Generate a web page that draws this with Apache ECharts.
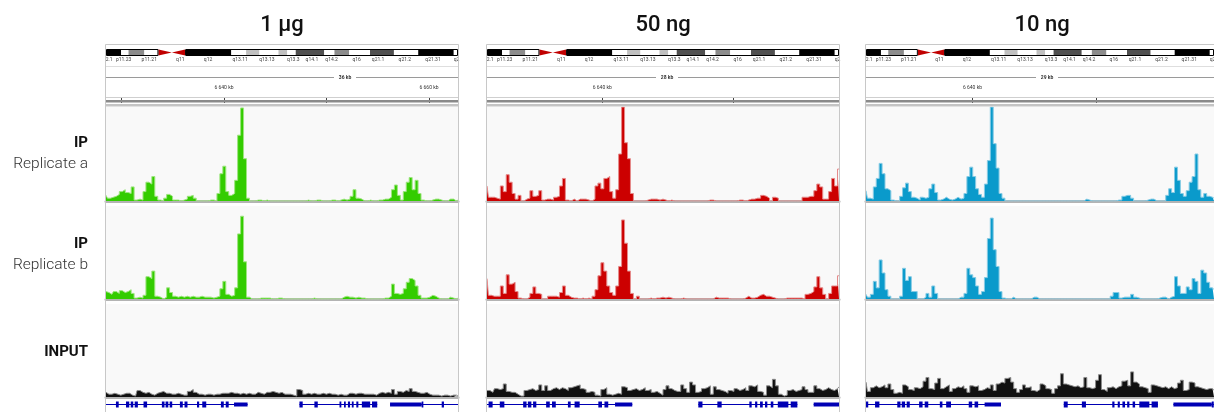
<!DOCTYPE html>
<html><head><meta charset="utf-8">
<script src="https://cdn.jsdelivr.net/npm/echarts@6/dist/echarts.min.js"></script>
<style>html,body{margin:0;padding:0;background:#fff}#c{width:1214px;height:412px}</style>
</head><body><div id="c"></div>
<script>
// ---------------- DATA ----------------
const conditions = ['1 µg', '50 ng', '10 ng'];
const spanLabels = ['36 kb', '28 kb', '29 kb'];
const trackLabels = [['IP', 'Replicate a'], ['IP', 'Replicate b'], ['INPUT', '']];
// genomic view windows (kb) of the three panels
const windowStartKb = [6628.49, 6631.17, 6631.42];
const windowEndKb = [6662.83, 6658.14, 6659.47];
const rulerTicksKb = [6630, 6640, 6650, 6660];
const rulerLabelKb = [[6640, 6660], [6640], [6640]];

// ideogram bands, per-mille of chromosome length
const ideoBands = [
  [0, 43, 'gpos100'], [43, 64, 'gneg'], [64, 109, 'gpos50'], [109, 149, 'gneg'],
  [149, 187, 'acen-p'], [187, 225, 'acen-q'], [225, 356, 'gpos100'], [356, 398, 'gneg'],
  [398, 436, 'gpos25'], [436, 490, 'gneg'], [490, 515, 'gpos25'], [515, 539, 'gneg'],
  [539, 620, 'gpos75'], [620, 649, 'gneg'], [649, 691, 'gpos50'], [691, 750, 'gneg'],
  [750, 818, 'gpos75'], [818, 887, 'gneg'], [887, 988, 'gpos100'], [988, 1000, 'gneg']
];
const ideoLabelNames = ['2.1', 'p11.23', 'p11.21', 'q11', 'q12', 'q13.11', 'q13.13', 'q13.3', 'q14.1', 'q14.2', 'q16', 'q21.1', 'q21.2', 'q21.31', 'q2'];
const ideoLabelPos = [9, 50, 123, 211, 290, 381, 457, 532, 585, 641, 712, 773, 849, 929, 996];

// gene models (kb)
const geneSpans = [[6620, 6642.30], [6647.36, 6654.95], [6656.20, 6670]];
const geneExons = [
  [6629.46, 6629.73], [6630.44, 6630.76], [6630.90, 6631.15], [6631.29, 6631.60], [6632.15, 6632.50],
  [6633.94, 6634.20], [6634.30, 6634.57], [6634.70, 6634.95], [6635.70, 6635.98], [6636.15, 6636.44],
  [6637.37, 6637.58], [6637.88, 6638.27], [6639.70, 6639.98], [6640.17, 6640.46],
  [6647.36, 6647.68], [6648.82, 6649.15], [6651.27, 6651.45], [6651.71, 6651.88], [6652.09, 6652.30],
  [6652.47, 6652.65], [6652.91, 6653.11], [6653.45, 6654.26], [6654.44, 6654.95],
  [6659.29, 6659.45], [6661.24, 6661.46]
];
const geneUtrs = [[6640.98, 6642.30], [6656.20, 6659.29]];

// coverage, 120 bins per panel window, % of track data range
const ipA_1ug = [6,3,4,5,7,10,12,9,8,15, 1,2,1,10,20,18,26,5,1,0, 3,7,5,1,1,0,1,2,5,6, 3,0,0,0,0,1,1,0,8,29,
  37,10,6,8,22,70,99,45,3,0, 0,1,1,0,1,0,0,0,0,0, 0,0,0,0,0,0,0,0,1,0, 0,1,1,0,0,0,1,1,0,1,
  2,1,2,5,12,3,2,0,0,1, 0,0,1,1,2,2,4,12,17,6, 1,10,20,25,12,22,8,1,0,0, 1,2,2,1,0,0,2,2,0,1];
const ipB_1ug = [8,7,5,8,6,9,7,8,10,6, 1,2,1,4,24,22,30,3,2,0, 2,12,7,3,2,3,2,3,2,3, 2,2,3,2,2,2,1,2,3,11,
  19,5,3,4,12,70,89,40,2,0, 0,0,1,1,1,1,0,0,1,1, 0,0,0,0,0,0,0,0,0,0, 1,0,0,0,0,0,0,0,0,0,
  2,3,2,2,1,2,1,1,0,0, 0,0,0,0,1,1,3,16,6,5, 6,11,18,22,20,14,4,1,1,2, 4,3,1,0,0,0,2,1,0,1];
const input_1ug = [5,3,3,4,3,2,3,4,4,2, 1,7,5,4,5,3,2,4,5,6, 4,4,3,3,4,3,2,2,6,8, 5,3,3,2,3,3,2,3,3,4,
  4,4,5,4,4,3,4,3,4,3, 3,5,4,3,5,5,6,5,4,5, 3,3,3,2,1,8,7,3,4,3, 4,3,3,4,3,4,3,3,2,3,
  2,2,4,4,3,4,4,3,3,3, 3,2,4,5,4,5,4,8,3,6, 5,7,6,9,6,5,4,4,5,3, 2,2,2,1,2,2,1,2,2,1];
const ipA_50ng = [16,4,4,3,2,16,10,28,20,8, 2,6,0,2,3,11,5,6,11,1, 2,2,1,4,5,16,24,1,0,2, 0,2,2,2,1,0,2,16,19,13,
  24,26,10,3,12,50,100,62,45,8, 0,0,0,0,1,2,2,2,1,2, 1,0,1,0,0,0,0,0,0,0, 0,0,0,0,0,1,1,0,0,0,
  0,0,0,0,0,1,1,0,1,2, 2,3,3,6,5,3,0,4,3,0, 0,0,0,0,0,0,0,4,4,5, 5,11,18,15,2,2,10,24,16,34];
const ipB_50ng = [22,4,3,3,3,14,6,26,16,18, 8,1,0,0,2,6,13,6,5,0, 0,3,3,3,2,7,14,4,2,1, 1,0,1,0,1,0,3,10,25,39,
  30,14,7,4,14,35,85,60,30,6, 0,3,0,0,0,1,0,1,1,2, 1,2,1,0,0,0,1,0,0,0, 0,0,0,0,0,0,0,2,1,1,
  1,1,0,0,0,0,0,1,3,1, 1,2,4,5,3,3,2,1,0,0, 0,1,1,1,1,1,1,0,5,6, 8,13,24,12,5,0,6,14,14,25];
const input_50ng = [7,7,5,9,8,9,14,6,5,5, 3,1,1,7,8,9,7,8,13,7, 12,7,9,10,8,10,9,7,10,11, 12,13,9,8,5,6,5,2,1,8,
  10,3,2,3,4,3,11,10,7,8, 9,7,8,10,7,8,5,6,4,2, 8,12,9,7,6,6,13,9,5,16, 13,5,6,9,10,12,3,11,8,7,
  6,4,7,6,9,7,8,10,7,12, 11,13,6,5,2,12,10,19,12,3, 1,2,7,8,6,7,8,11,8,5, 5,12,9,7,8,10,8,7,9,11];
const ipA_10ng = [11,3,2,15,24,40,29,13,11,1, 0,0,5,14,19,10,4,3,1,4, 3,4,13,18,9,1,2,4,2,1, 2,4,2,3,8,26,36,26,13,7,
  4,18,43,100,61,35,8,3,0,0, 0,0,0,0,0,0,0,0,0,0, 0,0,0,0,0,0,0,0,0,0, 0,0,0,0,0,2,1,0,0,0,
  0,0,0,0,0,0,1,1,5,6, 6,3,0,0,0,0,1,2,2,0, 0,0,0,6,13,9,36,22,8,5, 11,20,26,50,12,4,8,5,4,3];
const ipB_10ng = [5,2,5,19,12,42,28,10,3,0, 0,0,3,33,20,24,8,8,0,0, 2,6,2,14,6,0,0,0,0,0, 0,0,2,2,6,33,26,23,14,5,
  8,23,65,87,53,35,8,1,0,0, 2,0,0,0,0,0,0,2,2,0, 0,0,0,0,0,0,0,0,0,0, 0,0,0,0,0,0,0,0,0,0,
  0,0,0,0,3,7,7,1,2,2, 2,5,2,1,0,0,0,0,0,0, 1,2,2,0,2,3,24,14,6,6, 13,10,22,19,6,31,28,18,12,10];
const input_10ng = [16,6,10,12,10,11,13,10,14,8, 4,5,4,13,11,8,7,10,9,11, 17,21,9,8,15,20,9,11,13,6, 9,11,10,12,9,5,12,11,12,7,
  8,10,9,13,7,14,16,15,20,21, 16,9,5,8,13,10,11,7,6,8, 14,12,9,8,4,9,12,25,14,13, 12,11,12,10,11,21,10,9,10,18,
  24,8,6,10,11,9,11,12,17,18, 12,27,16,14,11,10,9,5,13,12, 11,10,11,9,11,9,10,15,18,7, 8,16,15,11,10,9,8,9,9,7];

// ---------------- LAYOUT / STYLE ----------------
const colLeft = [106, 487, 866];
const colW = 352;
const trackTop = [107, 206, 304];
const trackH = [94, 93, 93];
const ipColors = ['#33cc00', '#cc0000', '#0a9acb'];
const ipFringe = ['#9ee57f', '#e58a8a', '#86cbe4'];
const inputColor = '#111111';
const inputFringe = '#8a8a8a';
const geneColor = '#0000b4';
const FONT = 'Roboto, "Noto Sans", "DejaVu Sans", sans-serif';
const stainColor = {gneg: '#ffffff', gpos25: '#c0c0c0', gpos50: '#8c8c8c', gpos75: '#505050', gpos100: '#000000'};

const tracks = [[ipA_1ug, ipB_1ug, input_1ug], [ipA_50ng, ipB_50ng, input_50ng], [ipA_10ng, ipB_10ng, input_10ng]];
const scaleLabelX = [345, 667, 1047];

const grid = [], xAxis = [], yAxis = [], series = [], graphic = [];
function addGrid(g, xa, ya) {
  grid.push(Object.assign({containLabel: false}, g));
  const i = grid.length - 1;
  xa.gridIndex = i; ya.gridIndex = i;
  xAxis.push(xa); yAxis.push(ya);
  return i;
}
const hiddenY = (min, max) => ({type: 'value', min, max, show: false});
const fmtKb = v => String(v).replace(/\B(?=(\d{3})+(?!\d))/g, ' ') + ' kb';
function clipTo(params, r) {
  const cs = params.coordSys;
  return echarts.graphic.clipRectByRect(r, {x: cs.x, y: cs.y, width: cs.width, height: cs.height});
}

// arms outline derived from bands
const arms = [];
(function () {
  let cur = null;
  ideoBands.forEach(b => {
    if (b[2].startsWith('acen')) { if (cur) { arms.push(cur); cur = null; } }
    else { if (!cur) cur = [b[0], b[1]]; else cur[1] = b[1]; }
  });
  if (cur) arms.push(cur);
})();

for (let c = 0; c < 3; c++) {
  const L = colLeft[c];
  // title
  graphic.push({type: 'text', x: L + colW / 2, y: 25, z: 20,
    style: {text: conditions[c], font: '500 22px ' + FONT, fill: '#111', align: 'center', verticalAlign: 'middle'}});
  // panel frame
  graphic.push({type: 'rect', z: 20, shape: {x: L - 0.5, y: 44.5, width: colW + 1, height: 400},
    style: {fill: 'none', stroke: '#c8c8c8', lineWidth: 1}});
  graphic.push({type: 'line', z: 20, shape: {x1: L, y1: 66.5, x2: L + colW, y2: 66.5}, style: {stroke: '#dedede', lineWidth: 1}});
  // scale bar
  const sx = scaleLabelX[c];
  graphic.push({type: 'line', z: 20, shape: {x1: L, y1: 77.5, x2: sx - 11, y2: 77.5}, style: {stroke: '#9a9a9a', lineWidth: 1}});
  graphic.push({type: 'line', z: 20, shape: {x1: sx + 11, y1: 77.5, x2: L + colW, y2: 77.5}, style: {stroke: '#9a9a9a', lineWidth: 1}});
  graphic.push({type: 'text', z: 20, x: sx, y: 77.5, style: {text: spanLabels[c], font: 'bold 5px ' + FONT, fill: '#333', align: 'center', verticalAlign: 'middle'}});
  // header/track separator lines
  graphic.push({type: 'line', z: 20, shape: {x1: L, y1: 97.5, x2: L + colW, y2: 97.5}, style: {stroke: '#cfcfcf', lineWidth: 1}});
  graphic.push({type: 'rect', z: 20, shape: {x: L, y: 100, width: colW, height: 2.5}, style: {fill: '#8a8a8a'}});
  graphic.push({type: 'rect', z: 20, shape: {x: L, y: 104, width: colW, height: 2.5}, style: {fill: '#c4c4c4'}});

  // ideogram
  const gi = addGrid({left: L, top: 50, width: colW, height: 5},
    {type: 'value', min: 0, max: 1000, show: false}, hiddenY(0, 1));
  series.push({type: 'custom', xAxisIndex: gi, yAxisIndex: gi, silent: true,
    data: ideoBands.map(b => [b[0], b[1]]),
    renderItem: (params, api) => {
      const b = ideoBands[params.dataIndex];
      const p0 = api.coord([b[0], 1]), p1 = api.coord([b[1], 0]);
      if (b[2].startsWith('acen')) {
        const ym = (p0[1] + p1[1]) / 2;
        const pts = b[2] === 'acen-p'
          ? [[p0[0], p0[1] - 0.5], [p1[0], ym], [p0[0], p1[1] + 0.5]]
          : [[p0[0], ym], [p1[0], p0[1] - 0.5], [p1[0], p1[1] + 0.5]];
        return {type: 'polygon', shape: {points: pts}, style: {fill: '#c00000'}};
      }
      return {type: 'rect', shape: {x: p0[0], y: p0[1], width: p1[0] - p0[0], height: p1[1] - p0[1]}, style: {fill: stainColor[b[2]]}};
    }});
  series.push({type: 'custom', xAxisIndex: gi, yAxisIndex: gi, silent: true, z: 3,
    data: arms,
    renderItem: (params, api) => {
      const p0 = api.coord([api.value(0), 1]), p1 = api.coord([api.value(1), 0]);
      return {type: 'rect', shape: {x: p0[0] + 0.5, y: p0[1] - 0.5, width: p1[0] - p0[0] - 1, height: p1[1] - p0[1] + 1},
        style: {fill: 'none', stroke: '#000', lineWidth: 1}};
    }});
  series.push({type: 'custom', xAxisIndex: gi, yAxisIndex: gi, silent: true,
    data: ideoLabelPos.map(p => [p, 0]),
    renderItem: (params, api) => {
      const p = api.coord([api.value(0), 0]);
      return {type: 'text', x: p[0], y: p[1] + 2,
        style: {text: ideoLabelNames[params.dataIndex], font: '5px ' + FONT, fill: '#444', align: 'center', verticalAlign: 'top'}};
    }});

  // ruler
  const ticks = rulerTicksKb.filter(v => v >= windowStartKb[c] && v <= windowEndKb[c]);
  addGrid({left: L, top: 91, width: colW, height: 6},
    {type: 'value', position: 'top', min: windowStartKb[c], max: windowEndKb[c],
      axisLine: {show: false}, splitLine: {show: false},
      axisTick: {show: true, inside: true, length: 6, customValues: ticks, lineStyle: {color: '#444', width: 1}},
      axisLabel: {show: true, customValues: rulerLabelKb[c], margin: 1, fontSize: 5, fontFamily: FONT, color: '#333', formatter: v => fmtKb(v)}},
    hiddenY(0, 1));

  // coverage tracks (step area)
  for (let r = 0; r < 3; r++) {
    const data = tracks[c][r];
    const ti = addGrid({left: L, top: trackTop[r], width: colW, height: trackH[r], show: true, backgroundColor: '#f9f9f9', borderWidth: 0},
      {type: 'category', data: data.map((v, i) => i), boundaryGap: false, offset: 2,
        axisLine: {show: true, lineStyle: {color: '#b4b4b4', width: 3}},
        axisTick: {show: false}, axisLabel: {show: false}, splitLine: {show: false}},
      hiddenY(0, 100));
    series.push({type: 'line', xAxisIndex: ti, yAxisIndex: ti, data, step: 'middle', silent: true,
      showSymbol: false, symbol: 'none',
      lineStyle: {color: r === 2 ? inputFringe : ipFringe[c], width: 1},
      areaStyle: {color: r === 2 ? inputColor : ipColors[c], opacity: 1}});
  }

  // genes
  const gg = addGrid({left: L, top: 401.5, width: colW, height: 6},
    {type: 'value', min: windowStartKb[c], max: windowEndKb[c], show: false}, hiddenY(0, 1));
  const geneRender = h => (params, api) => {
    const s = api.coord([api.value(0), 0.5]), e = api.coord([api.value(1), 0.5]);
    const rect = clipTo(params, {x: s[0], y: s[1] - h / 2, width: Math.max(e[0] - s[0], 1), height: h});
    return rect ? {type: 'rect', shape: rect, style: {fill: geneColor}} : null;
  };
  series.push({type: 'custom', xAxisIndex: gg, yAxisIndex: gg, silent: true, data: geneSpans, renderItem: geneRender(1)});
  series.push({type: 'custom', xAxisIndex: gg, yAxisIndex: gg, silent: true, data: geneUtrs, renderItem: geneRender(4)});
  series.push({type: 'custom', xAxisIndex: gg, yAxisIndex: gg, silent: true, data: geneExons, renderItem: geneRender(6)});
}

// row labels
const labelY = [[143, 164], [244, 265], [352, 0]];
trackLabels.forEach((t, r) => {
  graphic.push({type: 'text', x: 88, y: labelY[r][0], style: {text: t[0], font: 'bold 15px ' + FONT, fill: '#111', align: 'right', verticalAlign: 'middle'}});
  if (t[1]) graphic.push({type: 'text', x: 88, y: labelY[r][1], style: {text: t[1], font: '300 15.5px ' + FONT, fill: '#333', align: 'right', verticalAlign: 'middle'}});
});

const chart = echarts.init(document.getElementById('c'), null, {renderer: 'canvas'});
chart.setOption({animation: false, backgroundColor: '#ffffff', grid, xAxis, yAxis, series, graphic});
</script></body></html>
